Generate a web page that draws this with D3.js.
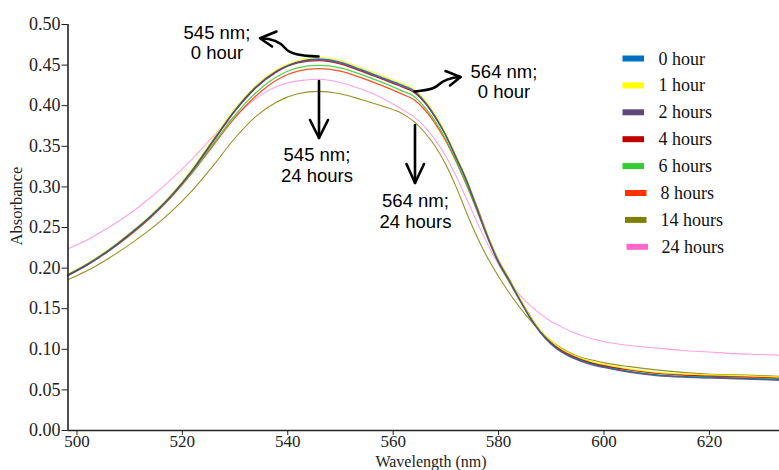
<!DOCTYPE html>
<html><head><meta charset="utf-8">
<script src="https://cdn.jsdelivr.net/npm/d3@7/dist/d3.min.js"></script>
<style>body{margin:0;background:#fff;} svg{display:block;}</style>
</head><body>
<svg id="c" width="779" height="470"></svg>
<script>
const wavelengths = [498,502,506,510,514,518,522,526,530,534,538,542,546,550,554,558,562,564,566,568,570,572,574,576,578,580,582,584,586,588,590,592,594,596,598,600,605,610,615,620,625,630,634];
const hour0  = [0.190,0.204,0.221,0.241,0.263,0.289,0.320,0.357,0.393,0.422,0.442,0.453,0.457,0.453,0.444,0.434,0.424,0.418,0.405,0.387,0.364,0.336,0.308,0.272,0.238,0.208,0.186,0.162,0.139,0.121,0.107,0.097,0.090,0.085,0.081,0.078,0.072,0.068,0.066,0.065,0.064,0.063,0.062];
const hour1  = [0.191,0.205,0.222,0.242,0.264,0.290,0.322,0.359,0.395,0.424,0.444,0.455,0.459,0.455,0.446,0.436,0.426,0.420,0.407,0.389,0.366,0.338,0.309,0.274,0.240,0.210,0.187,0.164,0.141,0.123,0.110,0.100,0.093,0.088,0.084,0.081,0.075,0.071,0.069,0.068,0.067,0.066,0.065];
const hour2  = [0.189,0.203,0.220,0.240,0.262,0.288,0.320,0.357,0.393,0.422,0.442,0.453,0.456,0.452,0.443,0.433,0.423,0.417,0.404,0.386,0.364,0.336,0.307,0.273,0.238,0.208,0.185,0.161,0.139,0.120,0.106,0.096,0.089,0.084,0.080,0.077,0.071,0.067,0.065,0.064,0.063,0.062,0.061];
const hour4  = [0.190,0.204,0.221,0.241,0.263,0.289,0.320,0.356,0.392,0.421,0.441,0.452,0.455,0.451,0.442,0.432,0.422,0.416,0.404,0.386,0.364,0.337,0.308,0.275,0.240,0.210,0.187,0.163,0.141,0.122,0.108,0.098,0.091,0.086,0.082,0.079,0.074,0.070,0.068,0.067,0.066,0.065,0.064];
const hour6  = [0.190,0.204,0.221,0.240,0.262,0.288,0.318,0.353,0.387,0.415,0.435,0.446,0.449,0.446,0.438,0.428,0.417,0.411,0.398,0.381,0.359,0.332,0.303,0.271,0.237,0.207,0.184,0.161,0.139,0.121,0.107,0.097,0.090,0.085,0.081,0.078,0.072,0.068,0.066,0.065,0.064,0.063,0.063];
const hour8  = [0.189,0.203,0.220,0.239,0.261,0.287,0.317,0.351,0.384,0.411,0.431,0.442,0.445,0.442,0.434,0.424,0.413,0.407,0.395,0.378,0.357,0.331,0.302,0.270,0.237,0.207,0.184,0.162,0.140,0.122,0.108,0.099,0.092,0.087,0.083,0.080,0.074,0.070,0.068,0.066,0.065,0.065,0.064];
const hour14 = [0.184,0.196,0.211,0.228,0.247,0.269,0.295,0.326,0.359,0.386,0.404,0.414,0.417,0.414,0.407,0.399,0.389,0.380,0.367,0.350,0.328,0.300,0.268,0.238,0.212,0.190,0.170,0.152,0.136,0.122,0.110,0.101,0.094,0.089,0.086,0.083,0.078,0.074,0.071,0.069,0.068,0.067,0.066];
const hour24 = [0.222,0.234,0.249,0.266,0.286,0.309,0.334,0.362,0.386,0.408,0.423,0.430,0.432,0.428,0.420,0.409,0.394,0.386,0.374,0.358,0.338,0.313,0.285,0.256,0.229,0.205,0.184,0.167,0.154,0.143,0.134,0.127,0.121,0.116,0.112,0.109,0.104,0.101,0.098,0.096,0.094,0.093,0.092];

const seriesNames = ["0 hour","1 hour","2 hours","4 hours","6 hours","8 hours","14 hours","24 hours"];
const seriesValues = [hour0,hour1,hour2,hour4,hour6,hour8,hour14,hour24];
const seriesColors = ["#0070C0","#FFFF00","#5F497A","#C00000","#33CC33","#FF3300","#808000","#FF66CC"];
const xTicks = [500,520,540,560,580,600,620];
const yTicks = [0,0.05,0.10,0.15,0.20,0.25,0.30,0.35,0.40,0.45,0.50];

(function(){
const svg = d3.select("#c");
const L = 67.5, R = 779, T = 24, B = 430;
const x = d3.scaleLinear().domain([498.3, 633.3]).range([L, R]);
const y = d3.scaleLinear().domain([0, 0.5]).range([B, T]);

svg.append("defs").append("clipPath").attr("id","clip")
  .append("rect").attr("x",L).attr("y",T-5).attr("width",R-L).attr("height",B-T+5);

const line = d3.line().x(d=>x(d[0])).y(d=>y(d[1])).curve(d3.curveMonotoneX);
const drawOrder = [7,6,5,4,3,1,0,2];
const g = svg.append("g").attr("clip-path","url(#clip)");
drawOrder.forEach(i=>{
  const pts = wavelengths.map((w,j)=>[w, seriesValues[i][j]]);
  g.append("path").attr("d", line(pts)).attr("fill","none")
    .attr("stroke", seriesColors[i]).attr("stroke-width", i===7||i===6?1.1:1.3)
    .attr("stroke-opacity", i===7?0.6:0.85);
});

const serif = "'Liberation Serif','Times New Roman',serif";
const xAxis = svg.append("g").attr("transform",`translate(0,${B})`)
  .call(d3.axisBottom(x).tickValues(xTicks).tickSize(5).tickFormat(d3.format("d")));
xAxis.select(".domain").attr("d",`M${L},0.5H${R}`).attr("stroke","#222").attr("stroke-width",1.6);
xAxis.selectAll(".tick line").attr("stroke","#222");
xAxis.selectAll(".tick text").attr("font-family",serif).attr("font-size",17).attr("fill","#222").attr("dy","0.8em").attr("y",3);

const yAxis = svg.append("g").attr("transform",`translate(${L},0)`)
  .call(d3.axisLeft(y).tickValues(yTicks).tickSize(6).tickFormat(d3.format(".2f")));
yAxis.select(".domain").attr("d",`M0.5,${T}V${B}`).attr("stroke","#222").attr("stroke-width",1.6);
yAxis.selectAll(".tick line").attr("stroke","#222");
yAxis.selectAll(".tick text").attr("font-family",serif).attr("font-size",18).attr("fill","#222").attr("x",-7);

svg.append("text").attr("transform","translate(22,206) rotate(-90)").attr("text-anchor","middle")
  .attr("font-family",serif).attr("font-size",16.5).attr("fill","#222").text("Absorbance");
svg.append("text").attr("x",431).attr("y",467).attr("text-anchor","middle")
  .attr("font-family",serif).attr("font-size",16).attr("fill","#222").text("Wavelength (nm)");

const legendY0 = 58.5, legendStep = 26.9;
const leg = svg.append("g");
seriesNames.forEach((n,i)=>{
  const sx = 622.5 + (i>=5 ? 2.5 : 0) + (i===7 ? 1.5 : 0);
  leg.append("rect").attr("x",sx).attr("y",legendY0+i*legendStep-3).attr("width",21.5).attr("height",6)
    .attr("fill",seriesColors[i]);
  leg.append("text").attr("x",658.5 + (i>=5?2:0)+(i===7?1:0)).attr("y",legendY0+i*legendStep+6)
    .attr("font-family",serif).attr("font-size",18).attr("fill","#111").text(n);
});

const sans = "'Liberation Sans',Arial,sans-serif";
function label(cx, y1, t1, t2){
  svg.append("text").attr("x",cx).attr("y",y1).attr("text-anchor","middle").attr("font-family",sans).attr("font-size",18.5).attr("fill","#000").text(t1);
  svg.append("text").attr("x",cx).attr("y",y1+20.5).attr("text-anchor","middle").attr("font-family",sans).attr("font-size",18.5).attr("fill","#000").text(t2);
}
label(217, 38.5, "545 nm;", "0 hour");
label(504, 77.5, "564 nm;", "0 hour");
label(317, 161, "545 nm;", "24 hours");
label(415.5, 207, "564 nm;", "24 hours");

const arr = svg.append("g").attr("fill","none").attr("stroke","#000").attr("stroke-width",2.6).attr("stroke-linecap","round").attr("stroke-linejoin","round");
arr.append("path").attr("d","M318.5,56.5 C300,56 290,54 285,48 C280,42 273,38.5 261,38.3");
arr.append("path").attr("d","M276.5,31.5 L260,38.3 L272,46.5");
arr.append("path").attr("d","M414.5,91.5 C425,90 433,90 437,86 C442,81 448,77.5 460.5,77");
arr.append("path").attr("d","M445.5,71 L460.5,77 L450,85.5");
arr.append("path").attr("d","M319,81 V138");
arr.append("path").attr("d","M310,120 L319,138 L328,120");
arr.append("path").attr("d","M415,125 V183");
arr.append("path").attr("d","M406.5,164 L415,183 L424,164");
})();
</script>
</body></html>
